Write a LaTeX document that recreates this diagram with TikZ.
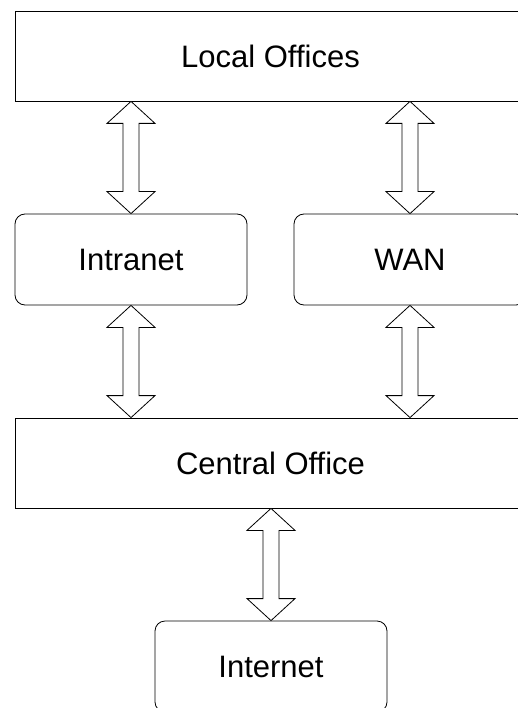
\documentclass[tikz,border=0pt]{standalone}
\usepackage{fontspec}
\setmainfont{Liberation Sans}
\usetikzlibrary{calc}

\tikzset{
    officebox/.style={draw=black, line width=0.8pt, minimum width=511pt, minimum height=90pt,
        font=\fontsize{31}{36}\selectfont},
    netbox/.style={officebox, rounded corners=10pt, minimum width=232pt, minimum height=91pt},
    dblarrow/.style={draw=black, line width=0.8pt, fill=white, line join=miter,
        to path={let \p1=(\tikztostart), \p2=(\tikztotarget) in
            (\x1,\y1) -- ++(24pt,-22pt) -- ++(-16pt,0pt) -- (\x1+8pt,\y2+22pt) -- ++(16pt,0pt)
            -- (\x2,\y2) -- ++(-24pt,22pt) -- ++(16pt,0pt) -- (\x1-8pt,\y1-22pt) -- ++(-16pt,0pt) -- cycle}}
}

\begin{document}
\begin{tikzpicture}[x=1pt, y=-1pt]
        % Rahmen
            \useasboundingbox (0,0) rectangle (517,708);

        % Buero-Kaesten
            \node[officebox] (local) at (270.5, 56) {Local Offices};
            \node[officebox] (central) at (270.5, 463) {Central Office};

        % Netze
            \node[netbox] (intranet) at (131, 259.5) {Intranet};
            \node[netbox] (wan) at (410, 259.5) {WAN};
            \node[netbox] (internet) at (271, 666.5) {Internet};

        % Doppelpfeile
            \draw[dblarrow] (local.south -| intranet.north) to (intranet.north);
            \draw[dblarrow] (local.south -| wan.north) to (wan.north);
            \draw[dblarrow] (intranet.south) to (central.north -| intranet.south);
            \draw[dblarrow] (wan.south) to (central.north -| wan.south);
            \draw[dblarrow] (central.south -| internet.north) to (internet.north);
    \end{tikzpicture}
\end{document}
